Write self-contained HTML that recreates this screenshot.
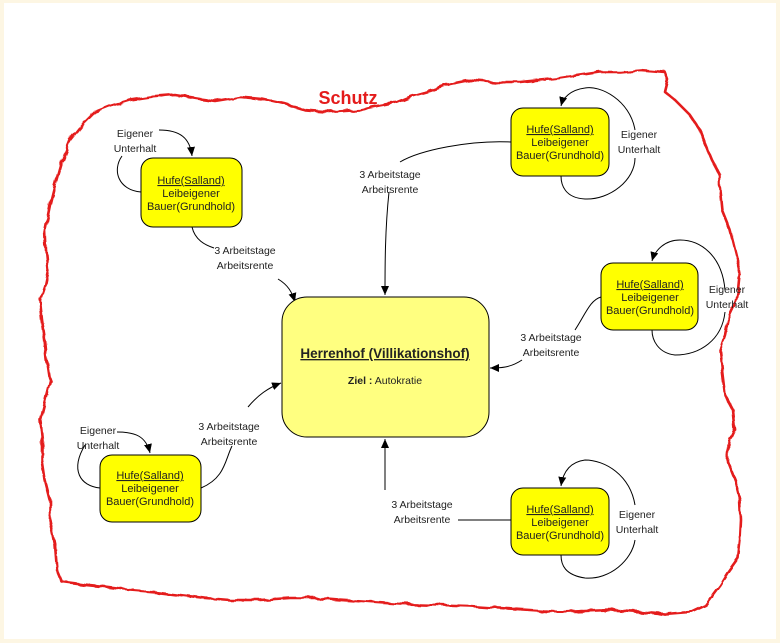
<!DOCTYPE html>
<html><head><meta charset="utf-8"><style>
html,body{margin:0;padding:0;background:#fdf6e3;}
svg{display:block;}
text{font-family:"Liberation Sans",sans-serif;}
</style></head><body>
<svg width="780" height="643" viewBox="0 0 780 643" xmlns="http://www.w3.org/2000/svg">
<defs>
<marker id="ar" markerWidth="10" markerHeight="10" refX="9" refY="5" orient="auto" markerUnits="userSpaceOnUse">
<path d="M0,1 L9,5 L0,9 Z" fill="#000"/></marker>
<filter id="rough" x="-5%" y="-5%" width="110%" height="110%">
<feTurbulence type="fractalNoise" baseFrequency="0.08" numOctaves="2" seed="3"/>
<feDisplacementMap in="SourceGraphic" scale="5"/>
</filter>
</defs>
<rect x="4" y="3" width="772" height="636" fill="#fff"/>
<path filter="url(#rough)" d="M95,112 L110,106 L130,100 L150,97 L175,95 L200,99 L215,101 L240,97 L262,99 L285,104 L305,110 L330,112 L360,110 L395,103 L412,96 L430,91 L450,84 L470,80 L495,82 L520,82 L540,80 L560,78 L580,75 L600,72 L620,72 L640,70 L665,72 L668,80 L665,92 L675,100 L690,115 L700,130 L705,143 L712,160 L720,175 L720,190 L722,210 L730,230 L735,250 L740,270 L738,290 L735,305 L728,320 L725,335 L720,350 L722,370 L725,395 L733,410 L735,430 L728,445 L728,462 L735,480 L740,500 L741,520 L740,540 L738,558 L728,572 L720,585 L705,605 L690,612 L665,614 L640,612 L610,610 L585,611 L560,612 L530,610 L500,608 L470,606 L440,605 L400,604 L370,602 L340,600 L315,598 L290,598 L260,600 L230,600 L205,598 L180,595 L155,592 L130,590 L105,587 L85,585 L62,582 L57,570 L55,545 L50,520 L50,500 L45,480 L42,460 L42,440 L40,420 L45,400 L50,380 L47,360 L45,340 L42,320 L40,300 L45,285 L48,270 L46,250 L45,230 L50,205 L55,185 L62,160 L70,140 L82,125 Z" fill="none" stroke="#e41b1b" stroke-width="2.6" stroke-linejoin="round"/>
<text x="348" y="104" font-size="18" font-weight="bold" fill="#e41b1b" text-anchor="middle">Schutz</text>

<g stroke="#000" stroke-width="1" fill="none">
<path d="M159,130 C180,130 190,138 192,156" marker-end="url(#ar)"/>
<path d="M122,156 C112,170 118,190 141,192"/>
<path d="M192,227 C195,240 205,245 214,248"/>
<path d="M278,279 C288,285 292,292 295,302" marker-end="url(#ar)"/>
<path d="M117,432 C135,432 146,436 150,453" marker-end="url(#ar)"/>
<path d="M85,445 C70,470 80,486 100,488"/>
<path d="M201,488 C225,478 225,460 232,446"/>
<path d="M248,407 C258,395 268,388 281,383" marker-end="url(#ar)"/>
<path d="M511,142 C470,140 420,150 400,162"/>
<path d="M389,192 C385,230 385,265 385,295" marker-end="url(#ar)"/>
<path d="M635,130 C630,100 600,85 585,88 C570,90 563,98 561,106" marker-end="url(#ar)"/>
<path d="M635,158 C635,180 610,200 585,199 C565,198 561,185 561,176"/>
<path d="M601,297 C590,300 585,315 575,330"/>
<path d="M522,360 C510,368 500,368 490,368" marker-end="url(#ar)"/>
<path d="M725,290 C722,255 700,240 680,240 C665,240 655,250 652,261" marker-end="url(#ar)"/>
<path d="M725,312 C722,340 700,355 675,355 C658,353 652,340 652,330"/>
<path d="M511,520 C490,520 475,520 458,520"/>
<path d="M385,490 C385,470 385,455 385,439" marker-end="url(#ar)"/>
<path d="M635,505 C630,475 605,460 585,460 C570,462 563,472 561,486" marker-end="url(#ar)"/>
<path d="M635,540 C632,560 610,580 585,578 C565,575 561,565 561,555"/>
</g>

<g font-size="10.5" fill="#222" text-anchor="middle">
<text x="135" y="137">Eigener</text><text x="135" y="152">Unterhalt</text>
<text x="245" y="254">3 Arbeitstage</text><text x="245" y="269">Arbeitsrente</text>
<text x="98" y="434">Eigener</text><text x="98" y="449">Unterhalt</text>
<text x="229" y="430">3 Arbeitstage</text><text x="229" y="445">Arbeitsrente</text>
<text x="390" y="178">3 Arbeitstage</text><text x="390" y="193">Arbeitsrente</text>
<text x="639" y="138">Eigener</text><text x="639" y="153">Unterhalt</text>
<text x="551" y="341">3 Arbeitstage</text><text x="551" y="356">Arbeitsrente</text>
<text x="727" y="293">Eigener</text><text x="727" y="308">Unterhalt</text>
<text x="422" y="508">3 Arbeitstage</text><text x="422" y="523">Arbeitsrente</text>
<text x="637" y="518">Eigener</text><text x="637" y="533">Unterhalt</text>
</g>

<g stroke="#000" stroke-width="1" fill="#ffff00">
<rect x="141" y="158" width="101" height="69" rx="12"/>
<rect x="100" y="455" width="101" height="67" rx="12"/>
<rect x="511" y="108" width="98" height="68" rx="12"/>
<rect x="601" y="263" width="97" height="67" rx="12"/>
<rect x="511" y="488" width="98" height="67" rx="12"/>
</g>
<rect x="282" y="297" width="207" height="140" rx="25" fill="#ffff80" stroke="#000" stroke-width="1"/>

<g font-size="11" fill="#222" text-anchor="middle">
<text x="191" y="184" text-decoration="underline">Hufe(Salland)</text><text x="191" y="197">Leibeigener</text><text x="191" y="210">Bauer(Grundhold)</text>
<text x="150" y="479" text-decoration="underline">Hufe(Salland)</text><text x="150" y="492">Leibeigener</text><text x="150" y="505">Bauer(Grundhold)</text>
<text x="560" y="133" text-decoration="underline">Hufe(Salland)</text><text x="560" y="146">Leibeigener</text><text x="560" y="159">Bauer(Grundhold)</text>
<text x="650" y="288" text-decoration="underline">Hufe(Salland)</text><text x="650" y="301">Leibeigener</text><text x="650" y="314">Bauer(Grundhold)</text>
<text x="560" y="513" text-decoration="underline">Hufe(Salland)</text><text x="560" y="526">Leibeigener</text><text x="560" y="539">Bauer(Grundhold)</text>
</g>
<text x="385" y="358" font-size="13.5" font-weight="bold" fill="#222" text-anchor="middle" text-decoration="underline">Herrenhof (Villikationshof)</text>
<text x="385" y="384" font-size="10.5" fill="#222" text-anchor="middle"><tspan font-weight="bold">Ziel :</tspan> Autokratie</text>
</svg>
</body></html>
